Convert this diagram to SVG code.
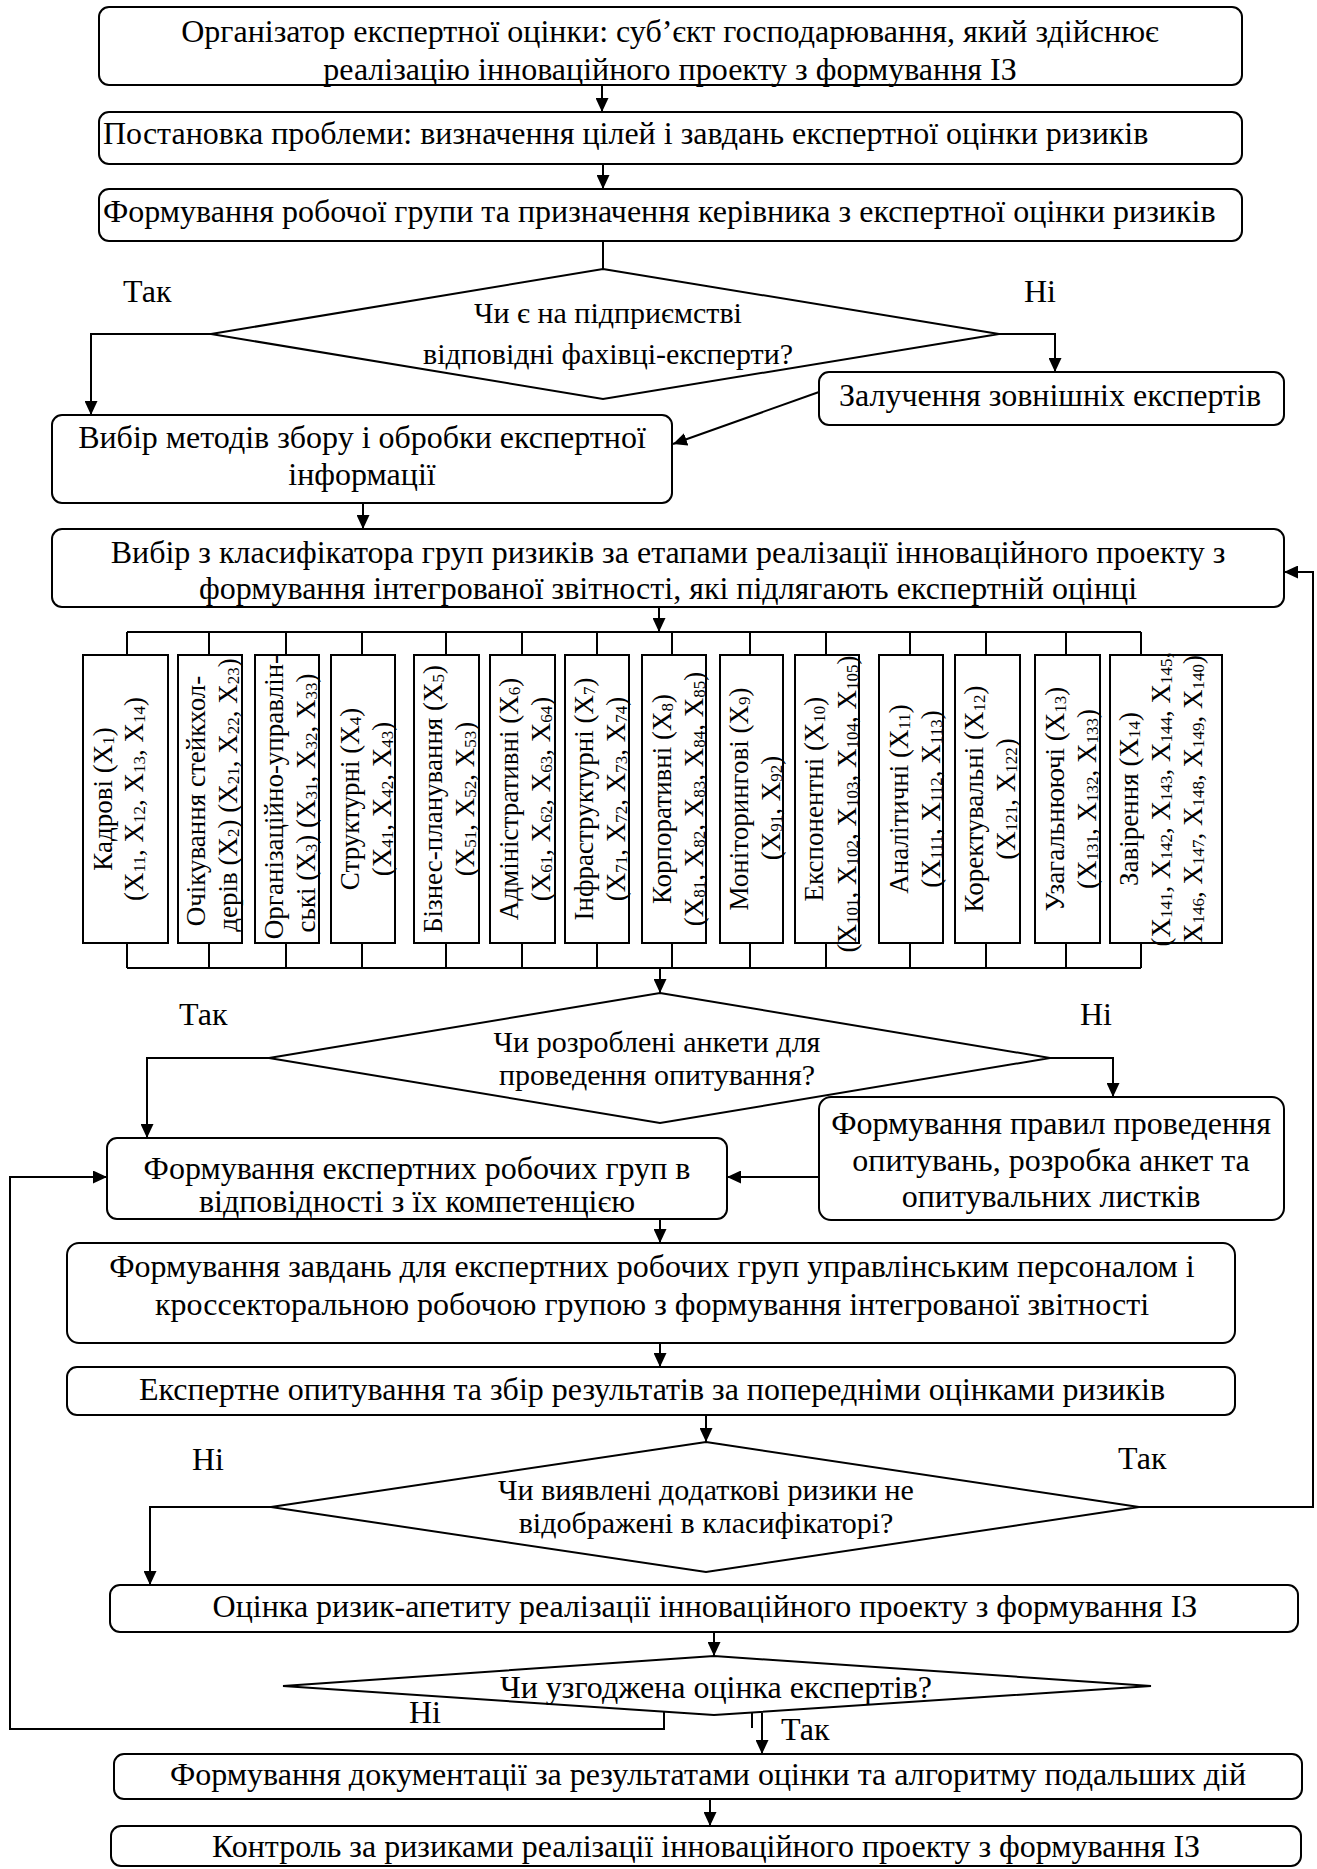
<svg xmlns="http://www.w3.org/2000/svg" width="1317" height="1869" viewBox="0 0 1317 1869">
<defs>
<marker id="a" markerWidth="14" markerHeight="13" refX="14" refY="6.5" orient="auto" markerUnits="userSpaceOnUse"><path d="M0,0 L14,6.5 L0,13 z" fill="#000"/></marker>
<style>
.b{fill:#fff;stroke:#000;stroke-width:2}
.d{fill:#fff;stroke:#000;stroke-width:2}
.t{font-family:"Liberation Serif","Times New Roman",serif;font-size:32px;fill:#000}
.q{font-size:30px}
.m{text-anchor:middle}
.v{font-size:27px;text-anchor:middle}
.s{font-size:17px;baseline-shift:-2px}
.c{fill:none;stroke:#000;stroke-width:2}
.c2{fill:none;stroke:#000;stroke-width:2;marker-end:url(#a)}
</style>
</defs>
<rect width="1317" height="1869" fill="#fff"/>

<g id="connectors">
<path class="c2" d="M602,85 V112"/>
<path class="c2" d="M603,164 V189"/>
<path class="c" d="M603,241 V269"/>
<path class="c2" d="M211,334 H91 V415"/>
<path class="c2" d="M999,334 H1055 V372"/>
<path class="c2" d="M819,392 L673,444"/>
<path class="c2" d="M363,503 V529"/>
<path class="c2" d="M659,607 V632"/>
<path class="c" d="M127,632 H1141 M127,632 V655 M209,632 V655 M286,632 V655 M362,632 V655 M446,632 V655 M522,632 V655 M597,632 V655 M672,632 V655 M750,632 V655 M826,632 V655 M910,632 V655 M986,632 V655 M1066,632 V655 M1141,632 V655"/>
<path class="c" d="M127,968 H1141 M127,943 V968 M209,943 V968 M286,943 V968 M362,943 V968 M446,943 V968 M522,943 V968 M597,943 V968 M672,943 V968 M750,943 V968 M826,943 V968 M910,943 V968 M986,943 V968 M1066,943 V968 M1141,943 V968"/>
<path class="c2" d="M660,968 V993"/>
<path class="c2" d="M269,1058 H147 V1138"/>
<path class="c2" d="M1050,1058 H1113 V1097"/>
<path class="c2" d="M819,1177 H727"/>
<path class="c2" d="M660,1219 V1243"/>
<path class="c2" d="M660,1343 V1367"/>
<path class="c2" d="M706,1415 V1442"/>
<path class="c2" d="M271,1507 H150 V1585"/>
<path class="c2" d="M1139,1507 H1313 V572 H1284"/>
<path class="c2" d="M714,1632 V1656"/>
<path class="c2" d="M664,1712 V1729 H10 V1177 H107"/>
<path class="c" d="M752,1713 V1728"/>
<path class="c2" d="M762,1713 V1754"/>
<path class="c2" d="M710,1799 V1826"/>
</g>

<g id="n1"><rect class="b" x="99" y="7" width="1143" height="78" rx="10"/>
<text class="t m" x="670" y="42">Організатор експертної оцінки: суб’єкт господарювання, який здійснює</text>
<text class="t m" x="670" y="80">реалізацію інноваційного проекту з формування ІЗ</text></g>

<g id="n2"><rect class="b" x="99" y="112" width="1143" height="52" rx="10"/>
<text class="t" x="103" y="144">Постановка проблеми: визначення цілей і завдань експертної оцінки ризиків</text></g>

<g id="n3"><rect class="b" x="99" y="189" width="1143" height="52" rx="10"/>
<text class="t" x="103" y="222">Формування робочої групи та призначення керівника з експертної оцінки ризиків</text></g>

<g id="d1"><polygon class="d" points="603,269 999,334 603,399 211,334"/>
<text class="t q m" x="608" y="323">Чи є на підприємстві</text>
<text class="t q m" x="608" y="364">відповідні фахівці-експерти?</text></g>
<text class="t" x="123" y="302">Так</text>
<text class="t" x="1024" y="302">Ні</text>

<g id="n4"><rect class="b" x="819" y="372" width="465" height="53" rx="10"/>
<text class="t m" x="1050" y="406">Залучення зовнішніх експертів</text></g>

<g id="n5"><rect class="b" x="52" y="415" width="620" height="88" rx="10"/>
<text class="t m" x="362" y="448">Вибір методів збору і обробки експертної</text>
<text class="t m" x="362" y="485">інформації</text></g>

<g id="n6"><rect class="b" x="52" y="529" width="1232" height="78" rx="10"/>
<text class="t m" x="668" y="563">Вибір з класифікатора груп ризиків за етапами реалізації інноваційного проекту з</text>
<text class="t m" x="668" y="599">формування інтегрованої звітності, які підлягають експертній оцінці</text></g>

<g id="r1"><rect class="b" x="83" y="655" width="85" height="288"/>
<text class="t v" transform="translate(112,799) rotate(-90)">Кадрові (X<tspan class="s">1</tspan>)</text>
<text class="t v" transform="translate(143,799) rotate(-90)">(X<tspan class="s">11</tspan>, X<tspan class="s">12</tspan>, X<tspan class="s">13</tspan>, X<tspan class="s">14</tspan>)</text></g>
<g id="r2"><rect class="b" x="178" y="655" width="64" height="288"/>
<text class="t v" transform="translate(205,801) rotate(-90)">Очікування стейкхол-</text>
<text class="t v" transform="translate(237,795) rotate(-90)">дерів (X<tspan class="s">2</tspan>) (X<tspan class="s">21</tspan>, X<tspan class="s">22</tspan>, X<tspan class="s">23</tspan>)</text></g>
<g id="r3"><rect class="b" x="255" y="655" width="64" height="288"/>
<text class="t v" transform="translate(283,797) rotate(-90)">Організаційно-управлін-</text>
<text class="t v" transform="translate(315,803) rotate(-90)">ські (X<tspan class="s">3</tspan>) (X<tspan class="s">31</tspan>, X<tspan class="s">32</tspan>, X<tspan class="s">33</tspan>)</text></g>
<g id="r4"><rect class="b" x="331" y="655" width="64" height="288"/>
<text class="t v" transform="translate(359,799) rotate(-90)">Структурні (X<tspan class="s">4</tspan>)</text>
<text class="t v" transform="translate(391,799) rotate(-90)">(X<tspan class="s">41</tspan>, X<tspan class="s">42</tspan>, X<tspan class="s">43</tspan>)</text></g>
<g id="r5"><rect class="b" x="414" y="655" width="65" height="288"/>
<text class="t v" transform="translate(442,799) rotate(-90)">Бізнес-планування (X<tspan class="s">5</tspan>)</text>
<text class="t v" transform="translate(474,799) rotate(-90)">(X<tspan class="s">51</tspan>, X<tspan class="s">52</tspan>, X<tspan class="s">53</tspan>)</text></g>
<g id="r6"><rect class="b" x="490" y="655" width="65" height="288"/>
<text class="t v" transform="translate(518,799) rotate(-90)">Адміністративні (X<tspan class="s">6</tspan>)</text>
<text class="t v" transform="translate(550,799) rotate(-90)">(X<tspan class="s">61</tspan>, X<tspan class="s">62</tspan>, X<tspan class="s">63</tspan>, X<tspan class="s">64</tspan>)</text></g>
<g id="r7"><rect class="b" x="565" y="655" width="64" height="288"/>
<text class="t v" transform="translate(593,799) rotate(-90)">Інфраструктурні (X<tspan class="s">7</tspan>)</text>
<text class="t v" transform="translate(625,799) rotate(-90)">(X<tspan class="s">71</tspan>, X<tspan class="s">72</tspan>, X<tspan class="s">73</tspan>, X<tspan class="s">74</tspan>)</text></g>
<g id="r8"><rect class="b" x="642" y="655" width="64" height="288"/>
<text class="t v" transform="translate(671,799) rotate(-90)">Корпоративні (X<tspan class="s">8</tspan>)</text>
<text class="t v" transform="translate(703,799) rotate(-90)">(X<tspan class="s">81</tspan>, X<tspan class="s">82</tspan>, X<tspan class="s">83</tspan>, X<tspan class="s">84</tspan>, X<tspan class="s">85</tspan>)</text></g>
<g id="r9"><rect class="b" x="720" y="655" width="63" height="288"/>
<text class="t v" transform="translate(748,799) rotate(-90)">Моніторингові (X<tspan class="s">9</tspan>)</text>
<text class="t v" transform="translate(780,808) rotate(-90)">(X<tspan class="s">91</tspan>, X<tspan class="s">92</tspan>)</text></g>
<g id="r10"><rect class="b" x="795" y="655" width="64" height="288"/>
<text class="t v" transform="translate(823,799) rotate(-90)">Експонентні (X<tspan class="s">10</tspan>)</text>
<text class="t v" transform="translate(856,804) rotate(-90)">(X<tspan class="s">101</tspan>, X<tspan class="s">102</tspan>, X<tspan class="s">103</tspan>, X<tspan class="s">104</tspan>, X<tspan class="s">105</tspan>)</text></g>
<g id="r11"><rect class="b" x="879" y="655" width="64" height="288"/>
<text class="t v" transform="translate(908,799) rotate(-90)">Аналітичні (X<tspan class="s">11</tspan>)</text>
<text class="t v" transform="translate(940,799) rotate(-90)">(X<tspan class="s">111</tspan>, X<tspan class="s">112</tspan>, X<tspan class="s">113</tspan>)</text></g>
<g id="r12"><rect class="b" x="955" y="655" width="65" height="288"/>
<text class="t v" transform="translate(983,799) rotate(-90)">Коректувальні (X<tspan class="s">12</tspan>)</text>
<text class="t v" transform="translate(1015,799) rotate(-90)">(X<tspan class="s">121</tspan>, X<tspan class="s">122</tspan>)</text></g>
<g id="r13"><rect class="b" x="1035" y="655" width="65" height="288"/>
<text class="t v" transform="translate(1064,799) rotate(-90)">Узагальнюючі (X<tspan class="s">13</tspan>)</text>
<text class="t v" transform="translate(1096,799) rotate(-90)">(X<tspan class="s">131</tspan>, X<tspan class="s">132</tspan>, X<tspan class="s">133</tspan>)</text></g>
<g id="r14"><rect class="b" x="1110" y="655" width="112" height="288"/>
<text class="t v" transform="translate(1138,799) rotate(-90)">Завірення (X<tspan class="s">14</tspan>)</text>
<text class="t v" transform="translate(1170,799) rotate(-90)">(X<tspan class="s">141</tspan>, X<tspan class="s">142</tspan>, X<tspan class="s">143</tspan>, X<tspan class="s">144</tspan>, X<tspan class="s">145</tspan>,</text>
<text class="t v" transform="translate(1202,799) rotate(-90)">X<tspan class="s">146</tspan>, X<tspan class="s">147</tspan>, X<tspan class="s">148</tspan>, X<tspan class="s">149</tspan>, X<tspan class="s">140</tspan>)</text></g>

<g id="d2"><polygon class="d" points="660,993 1050,1058 660,1123 269,1058"/>
<text class="t q m" x="657" y="1052">Чи розроблені анкети для</text>
<text class="t q m" x="657" y="1085">проведення опитування?</text></g>
<text class="t" x="179" y="1025">Так</text>
<text class="t" x="1080" y="1025">Ні</text>

<g id="n7"><rect class="b" x="819" y="1097" width="465" height="123" rx="12"/>
<text class="t m" x="1051" y="1134">Формування правил проведення</text>
<text class="t m" x="1051" y="1171">опитувань, розробка анкет та</text>
<text class="t m" x="1051" y="1207">опитувальних листків</text></g>

<g id="n8"><rect class="b" x="107" y="1138" width="620" height="81" rx="10"/>
<text class="t m" x="417" y="1179">Формування експертних робочих груп в</text>
<text class="t m" x="417" y="1212">відповідності з їх компетенцією</text></g>

<g id="n9"><rect class="b" x="67" y="1243" width="1168" height="100" rx="12"/>
<text class="t m" x="652" y="1277">Формування завдань для експертних робочих груп управлінським персоналом і</text>
<text class="t m" x="652" y="1315">кроссекторальною робочою групою з формування інтегрованої звітності</text></g>

<g id="n10"><rect class="b" x="67" y="1367" width="1168" height="48" rx="10"/>
<text class="t m" x="652" y="1400">Експертне опитування та збір результатів за попередніми оцінками ризиків</text></g>

<g id="d3"><polygon class="d" points="706,1442 1139,1507 706,1572 271,1507"/>
<text class="t q m" x="706" y="1500">Чи виявлені додаткові ризики не</text>
<text class="t q m" x="706" y="1533">відображені в класифікаторі?</text></g>
<text class="t" x="192" y="1470">Ні</text>
<text class="t" x="1118" y="1469">Так</text>

<g id="n11"><rect class="b" x="110" y="1585" width="1188" height="47" rx="10"/>
<text class="t m" x="705" y="1617">Оцінка ризик-апетиту реалізації інноваційного проекту з формування ІЗ</text></g>

<g id="d4"><polygon class="d" points="714,1656 1151,1686 714,1715 283,1686"/>
<text class="t m" x="716" y="1698">Чи узгоджена оцінка експертів?</text></g>
<text class="t" x="409" y="1723">Ні</text>
<text class="t" x="781" y="1740">Так</text>

<g id="n12"><rect class="b" x="114" y="1754" width="1188" height="45" rx="10"/>
<text class="t m" x="708" y="1785">Формування документації за результатами оцінки та алгоритму подальших дій</text></g>

<g id="n13"><rect class="b" x="111" y="1826" width="1190" height="40" rx="10"/>
<text class="t m" x="706" y="1857">Контроль за ризиками реалізації інноваційного проекту з формування ІЗ</text></g>
</svg>
